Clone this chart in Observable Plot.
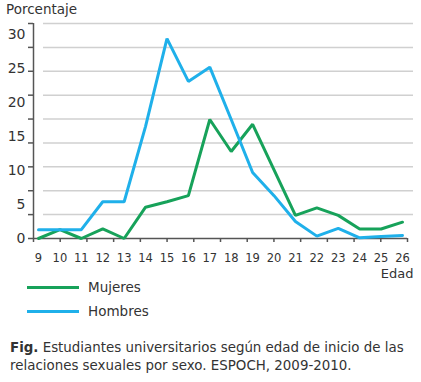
<!DOCTYPE html>
<html>
<head>
<meta charset="utf-8">
<script src="https://cdn.jsdelivr.net/npm/d3@7"></script>
<script src="https://cdn.jsdelivr.net/npm/@observablehq/plot@0.6"></script>
<style>
  body { margin: 0; background: #fff; font-family: "DejaVu Sans", Verdana, sans-serif; color: #333; }
  #wrap { width: 421px; height: 382px; position: relative; overflow: hidden; }
  .ytitle { font-size: 13.5px; height: 18px; line-height: 18px; padding-left: 6px; }
  .legend { margin-top: -9px; padding-left: 27px; font-size: 13.5px; }
  .legend .row { height: 24px; display: flex; align-items: center; }
  .legend .sw { width: 52px; height: 3px; margin-right: 9px; }
  .caption { margin-top: 16px; padding-left: 10px; font-size: 13.4px; line-height: 18px; white-space: nowrap; }
</style>
</head>
<body>
<div id="wrap">
  <div class="ytitle">Porcentaje</div>
  <div id="chart"></div>
  <div class="legend" id="legend"></div>
  <div class="caption">
    <div><b>Fig.</b> <span>Estudiantes universitarios según edad de inicio de las</span></div>
    <div>relaciones sexuales por sexo. ESPOCH, 2009-2010.</div>
  </div>
</div>
<script>
const ages = [9, 10, 11, 12, 13, 14, 15, 16, 17, 18, 19, 20, 21, 22, 23, 24, 25, 26];
const mujeres = [0, 1.3, 0, 1.4, 0, 4.6, 5.4, 6.3, 17.5, 12.8, 16.8, 10.1, 3.4, 4.5, 3.4, 1.4, 1.4, 2.4];
const hombres = [1.3, 1.3, 1.3, 5.4, 5.4, 16.5, 29.4, 23.1, 25.2, 17.5, 9.7, 6.3, 2.5, 0.35, 1.5, 0.1, 0.3, 0.45];
const seriesNames = ["Mujeres", "Hombres"];
const seriesColors = ["#17a25a", "#1fb0ea"];
const yTickLabels = [0, 5, 10, 15, 20, 25, 30];

const Y_MAX = 31.62;
const X_LO = 8.766, X_AXIS_END = 26.234, X_HI = 26.514;
const yGrid = d3.range(10).map(i => i * Y_MAX / 9);
const xTicks = d3.range(15).map(i => X_LO + i * (X_AXIS_END - X_LO) / 14);

const rows = [];
ages.forEach((a, i) => {
  rows.push({age: a, value: mujeres[i], serie: seriesNames[0]});
  rows.push({age: a, value: hombres[i], serie: seriesNames[1]});
});

const chart = Plot.plot({
  width: 421,
  height: 266,
  marginLeft: 33,
  marginRight: 8,
  marginTop: 5,
  marginBottom: 46,
  style: {fontFamily: "DejaVu Sans, Verdana, sans-serif", color: "#333", background: "#fff"},
  x: {domain: [X_LO, X_HI], label: null, axis: null},
  y: {domain: [0, Y_MAX], label: null, axis: null},
  marks: [
    Plot.ruleY(yGrid.slice(1), {stroke: "#d0d0d0", strokeWidth: 1.5, insetLeft: 10}),
    Plot.axisY(yGrid, {tickSize: 5, tickFormat: () => "", stroke: "#555", strokeWidth: 1.5, label: null}),
    Plot.axisY(yTickLabels, {tickSize: 0, tickPadding: 8, fontSize: 14, label: null}),
    Plot.ruleX([X_LO], {y1: 0, y2: Y_MAX, stroke: "#555", strokeWidth: 1.5}),
    Plot.ruleY([0], {stroke: "#555", strokeWidth: 1.5, insetRight: 6}),
    Plot.axisX(xTicks, {tickSize: 4, tickFormat: () => "", stroke: "#555", strokeWidth: 1.5, label: null}),
    Plot.axisX(ages, {tickSize: 0, tickPadding: 15, fontSize: 11.5, label: null}),
    Plot.text(["Edad"], {frameAnchor: "bottom-right", dy: 39, textAnchor: "end", fontSize: 13}),
    Plot.line(rows.filter(d => d.serie === seriesNames[0]), {x: "age", y: "value", stroke: seriesColors[0], strokeWidth: 3, strokeLinejoin: "miter"}),
    Plot.line(rows.filter(d => d.serie === seriesNames[1]), {x: "age", y: "value", stroke: seriesColors[1], strokeWidth: 3, strokeLinejoin: "miter"})
  ]
});
document.getElementById("chart").appendChild(chart);

const legend = document.getElementById("legend");
seriesNames.forEach((n, i) => {
  const r = document.createElement("div");
  r.className = "row";
  r.innerHTML = `<span class="sw" style="background:${seriesColors[i]}"></span><span>${n}</span>`;
  legend.appendChild(r);
});
</script>
</body>
</html>
